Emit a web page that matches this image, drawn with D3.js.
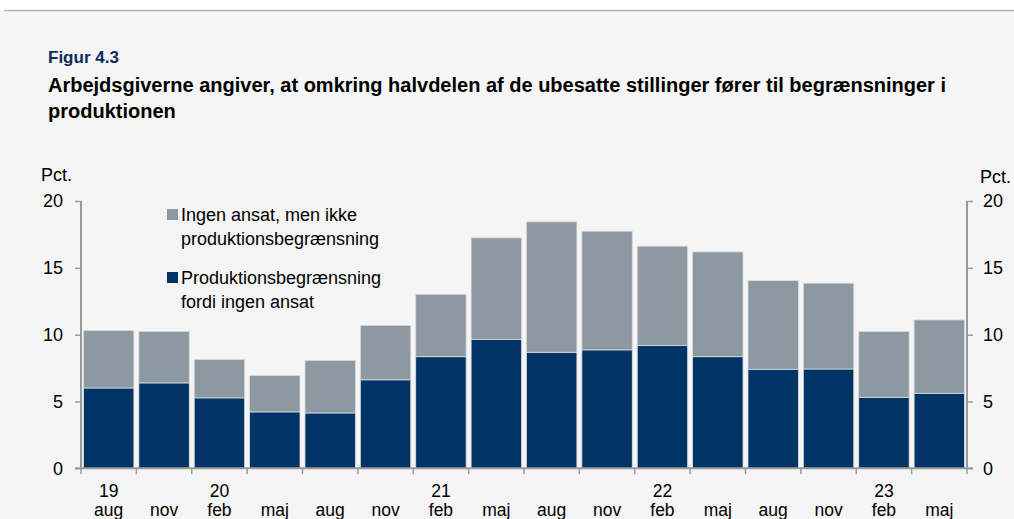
<!DOCTYPE html>
<html><head><meta charset="utf-8">
<script src="https://cdn.jsdelivr.net/npm/d3@7"></script>
<style>
html,body{margin:0;padding:0;background:#fff;}
svg{display:block;font-family:"Liberation Sans",Arial,sans-serif;}
</style></head>
<body>
<svg id="c" width="1014" height="519"></svg>
<script>
const months = ["aug","nov","feb","maj","aug","nov","feb","maj","aug","nov","feb","maj","aug","nov","feb","maj"];
const years = ["19","","20","","","","21","","","","22","","","","23",""];
const produktion = [6.01,6.39,5.27,4.22,4.14,6.62,8.35,9.63,8.68,8.86,9.18,8.35,7.41,7.43,5.31,5.61];
const ingenAnsat = [4.30,3.85,2.87,2.72,3.93,4.07,4.67,7.61,9.76,8.88,7.44,7.84,6.63,6.42,4.92,5.49];
const yTicks = [0,5,10,15,20];
const seriesNames = ["Ingen ansat, men ikke|produktionsbegrænsning","Produktionsbegrænsning|fordi ingen ansat"];
const colors = {dark:"#003466", gray:"#8C99A1"};

const svg = d3.select("#c");
svg.append("rect").attr("x",0).attr("y",11).attr("width",1014).attr("height",508).attr("fill","#f5f5f5");
svg.append("line").attr("x1",4).attr("x2",1014).attr("y1",10.5).attr("y2",10.5).attr("stroke","#b3b3b3").attr("stroke-width",1.5);

svg.append("text").attr("x",48).attr("y",63).attr("fill","#0b2a5c").attr("font-weight","bold").attr("font-size",17).text("Figur 4.3");
svg.append("text").attr("x",48).attr("y",92).attr("fill","#000").attr("font-weight","bold").attr("font-size",20).text("Arbejdsgiverne angiver, at omkring halvdelen af de ubesatte stillinger fører til begrænsninger i");
svg.append("text").attr("x",48).attr("y",118).attr("fill","#000").attr("font-weight","bold").attr("font-size",20).text("produktionen");

const x0 = 81, x1 = 967;
const x = d3.scaleBand().domain(d3.range(months.length)).range([x0,x1]).paddingInner(0.09).paddingOuter(0.045);
const y = d3.scaleLinear().domain([0,20]).range([468.3,201]);

const stackData = months.map((m,i)=>({i, dark:produktion[i], gray:ingenAnsat[i]}));
const stack = d3.stack().keys(["dark","gray"])(stackData);
const g = svg.append("g");
stack.forEach(layer=>{
  g.selectAll(null).data(layer).enter().append("rect")
    .attr("x",d=>x(d.data.i))
    .attr("width",x.bandwidth())
    .attr("y",d=>y(d[1]))
    .attr("height",d=>y(d[0])-y(d[1]))
    .attr("fill",colors[layer.key])
    .attr("stroke","#d6dadd").attr("stroke-width",0.8);
});

// axes
const axisColor = "#9a9a9a";
const leftAxis = d3.axisLeft(y).tickValues(yTicks).tickSize(6).tickPadding(12).tickFormat(d3.format("d"));
const la = svg.append("g").attr("transform",`translate(${x0},0)`).call(leftAxis);
const rightAxis = d3.axisRight(y).tickValues(yTicks).tickSize(6).tickPadding(10).tickFormat(d3.format("d"));
const ra = svg.append("g").attr("transform",`translate(${x1},0)`).call(rightAxis);
[la,ra].forEach(a=>{
  a.select(".domain").attr("stroke",axisColor).attr("stroke-width",2).attr("d", `M0,${y(20)}V${y(0)}`);
  a.selectAll(".tick line").attr("stroke",axisColor).attr("stroke-width",1.5);
  a.selectAll(".tick text").attr("fill","#000").attr("font-size",18).attr("font-family","Liberation Sans, Arial, sans-serif");
});

// x axis
const step = x.step();
const xb = svg.append("g");
xb.append("line").attr("x1",x0-6).attr("x2",x1+6).attr("y1",y(0)).attr("y2",y(0)).attr("stroke",axisColor).attr("stroke-width",2);
xb.selectAll(null).data(d3.range(months.length+1)).enter().append("line")
  .attr("x1",i=>x0+i*step).attr("x2",i=>x0+i*step)
  .attr("y1",y(0)).attr("y2",y(0)+6).attr("stroke",axisColor).attr("stroke-width",1.5);
xb.selectAll(null).data(months).enter().append("text")
  .attr("x",(d,i)=>x(i)+x.bandwidth()/2).attr("y",516).attr("text-anchor","middle").attr("font-size",17.5).text(d=>d);
xb.selectAll(null).data(years).enter().append("text")
  .attr("x",(d,i)=>x(i)+x.bandwidth()/2).attr("y",497).attr("text-anchor","middle").attr("font-size",17.5).text(d=>d);

svg.append("text").attr("x",41).attr("y",181).attr("font-size",18).text("Pct.");
svg.append("text").attr("x",1011).attr("y",183).attr("text-anchor","end").attr("font-size",18).text("Pct.");

// legend
const leg = svg.append("g");
const legColors = [colors.gray, colors.dark];
const legY = [209, 272];
seriesNames.forEach((n,k)=>{
  leg.append("rect").attr("x",167).attr("y",legY[k]).attr("width",11).attr("height",11).attr("fill",legColors[k]);
  n.split("|").forEach((line,j)=>{
    leg.append("text").attr("x",181).attr("y",legY[k]+12+j*24).attr("font-size",18).text(line);
  });
});
</script>
</body></html>
